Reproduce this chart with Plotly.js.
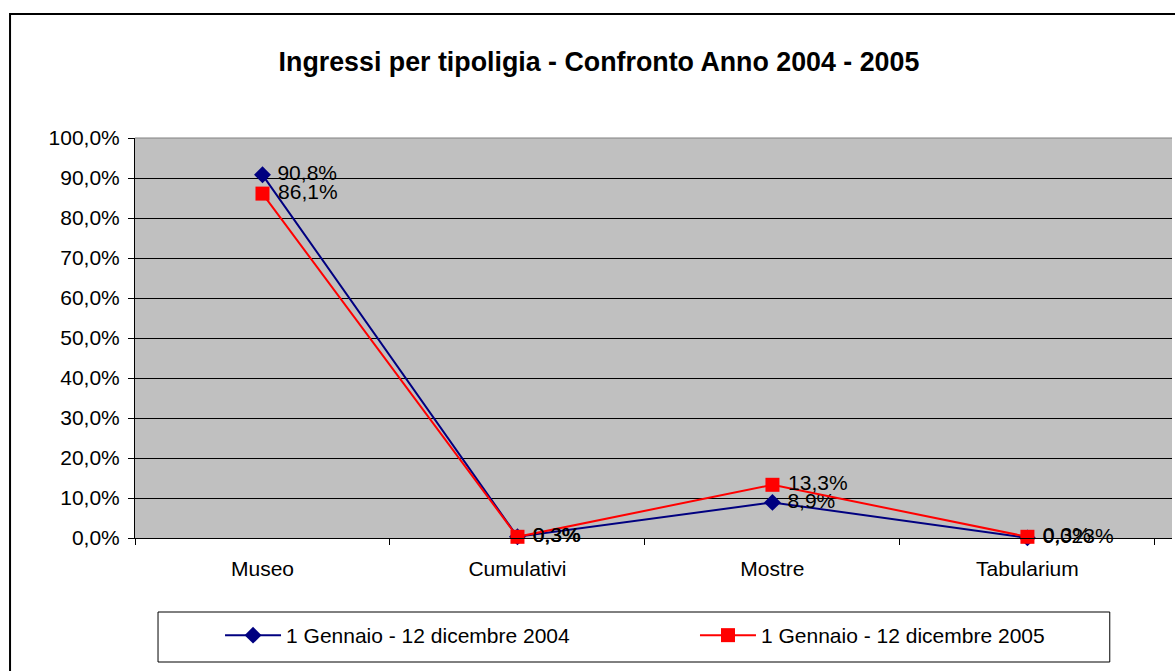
<!DOCTYPE html>
<html>
<head>
<meta charset="utf-8">
<script src="https://cdn.plot.ly/plotly-3.0.1.min.js"></script>
<style>
html,body{margin:0;padding:0;background:#fff;}
#chart{width:1175px;height:671px;}
</style>
</head>
<body>
<div id="chart"></div>
<script>
const categories = ["Museo", "Cumulativi", "Mostre", "Tabularium"];
const seriesNames = ["1 Gennaio - 12 dicembre 2004", "1 Gennaio - 12 dicembre 2005"];
const values2004 = [90.8, 0.3, 8.9, 0.023];
const values2005 = [86.1, 0.3, 13.3, 0.3];
const labels2004 = ["90,8%", "0,3%", "8,9%", "0,023%"];
const labels2005 = ["86,1%", "0,3%", "13,3%", "0,3%"];
const yTickVals = [0, 10, 20, 30, 40, 50, 60, 70, 80, 90, 100];
const yTickText = ["0,0%", "10,0%", "20,0%", "30,0%", "40,0%", "50,0%", "60,0%", "70,0%", "80,0%", "90,0%", "100,0%"];

const FONT = "Liberation Sans, Arial, sans-serif";

const traces = [
  {
    x: categories, y: values2004, text: labels2004, name: seriesNames[0],
    type: "scatter", mode: "lines+markers+text",
    line: {color: "#000080", width: 2},
    marker: {symbol: "diamond", size: 13, color: "#000080"},
    textposition: "middle right",
    texttemplate: "\u00a0%{text}",
    textfont: {family: FONT, size: 21, color: "#000"},
    cliponaxis: false,
    legend: "legend"
  },
  {
    x: categories, y: values2005, text: labels2005, name: seriesNames[1],
    type: "scatter", mode: "lines+markers+text",
    line: {color: "#FF0000", width: 2},
    marker: {symbol: "square", size: 14, color: "#FF0000"},
    textposition: "middle right",
    texttemplate: "\u00a0%{text}",
    textfont: {family: FONT, size: 21, color: "#000"},
    cliponaxis: false,
    legend: "legend2"
  }
];

const legendCommon = {
  orientation: "h", xanchor: "left", yanchor: "top", y: -0.1925,
  borderwidth: 0, bgcolor: "rgba(0,0,0,0)",
  font: {family: FONT, size: 21, color: "#000"},
  itemwidth: 56
};

const layout = {
  width: 1175, height: 671,
  margin: {l: 135, r: 3, t: 138, b: 133},
  paper_bgcolor: "#fff",
  plot_bgcolor: "#C0C0C0",
  font: {family: FONT, size: 21, color: "#000"},
  title: {
    text: "<b>Ingressi per tipoligia - Confronto Anno 2004 - 2005</b>",
    font: {family: FONT, size: 26.8, color: "#000"},
    x: 0.4474, xanchor: "center", xref: "paper", y: 0.908, yanchor: "middle"
  },
  showlegend: true,
  legend: Object.assign({}, legendCommon, {x: 0.082}),
  legend2: Object.assign({}, legendCommon, {x: 0.540}),
  xaxis: {
    type: "category",
    range: [-0.5, 3.567],
    tickson: "boundaries",
    ticks: "outside", ticklen: 6, tickcolor: "#000", tickwidth: 1,
    ticklabelstandoff: 12,
    showgrid: false, zeroline: false,
    showline: true, linecolor: "#000", linewidth: 1,
    tickfont: {family: FONT, size: 21, color: "#000"},
    fixedrange: true
  },
  yaxis: {
    range: [0, 100],
    tickvals: yTickVals, ticktext: yTickText,
    ticks: "outside", ticklen: 6, tickcolor: "#000",
    ticklabelstandoff: 4,
    showgrid: true, gridcolor: "#000", gridwidth: 1,
    zeroline: false,
    showline: true, linecolor: "#000", linewidth: 1,
    tickfont: {family: FONT, size: 21, color: "#000"},
    fixedrange: true
  },
  shapes: [
    {type: "rect", xref: "paper", yref: "paper",
     x0: -0.1205, x1: 1.05, y0: -0.4, y1: 1.31,
     line: {color: "#000", width: 2}, fillcolor: "rgba(0,0,0,0)", layer: "below"},
    {type: "line", xref: "paper", yref: "paper", x0: 0, x1: 1, y0: 1, y1: 1,
     line: {color: "#808080", width: 1}},
    {type: "rect", xref: "paper", yref: "paper",
     x0: 0.0222, x1: 0.940, y0: -0.31, y1: -0.185,
     line: {color: "#000", width: 1}, fillcolor: "rgba(0,0,0,0)", layer: "below"}
  ]
};

Plotly.newPlot("chart", traces, layout, {displayModeBar: false, staticPlot: true});
</script>
</body>
</html>
